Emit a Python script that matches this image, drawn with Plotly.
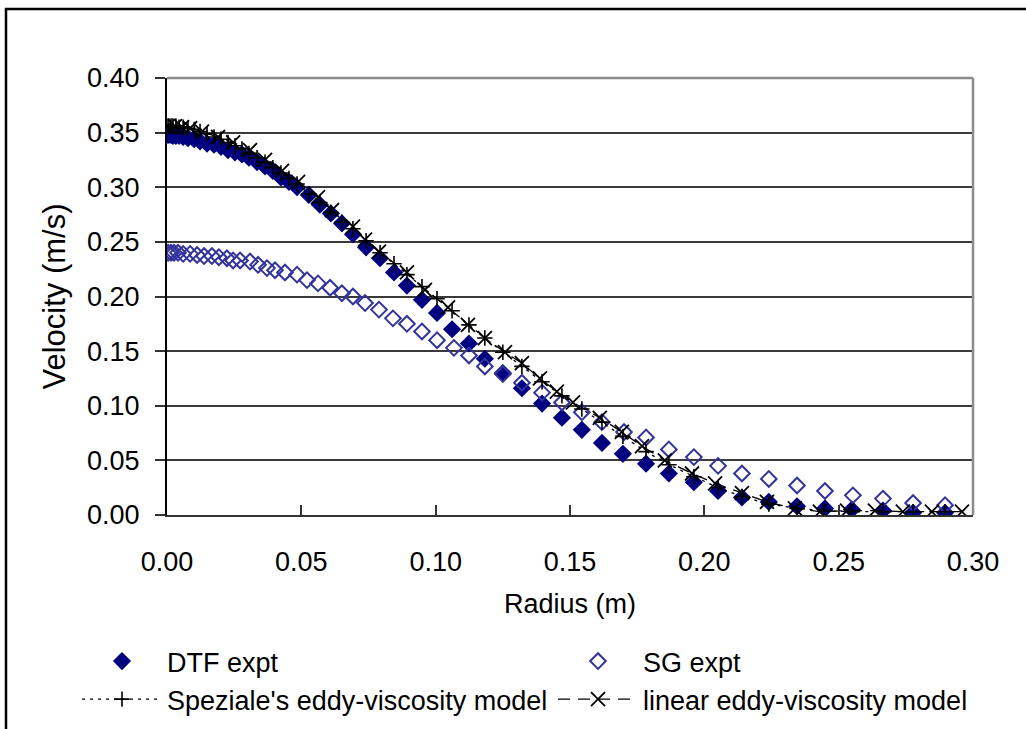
import plotly.graph_objects as go

# DTF experimental profile (radius m, axial velocity m/s)
r_dtf = [0.0000, 0.0007, 0.0015, 0.0022, 0.0033, 0.0045, 0.0060, 0.0078, 0.0101, 0.0123,
         0.0149, 0.0175, 0.0201, 0.0227, 0.0253, 0.0279, 0.0305, 0.0335, 0.0365, 0.0394,
         0.0424, 0.0454, 0.0484, 0.0528, 0.0569, 0.0610, 0.0651, 0.0692, 0.0741, 0.0793,
         0.0845, 0.0893, 0.0949, 0.1005, 0.1061, 0.1124, 0.1183, 0.1250, 0.1321, 0.1396,
         0.1470, 0.1544, 0.1619, 0.1697, 0.1783, 0.1868, 0.1961, 0.2051, 0.2140, 0.2240,
         0.2345, 0.2449, 0.2549, 0.2665, 0.2777, 0.2896]
v_dtf = [0.348, 0.348, 0.348, 0.347, 0.347, 0.347, 0.346, 0.345, 0.344, 0.342,
         0.340, 0.339, 0.337, 0.334, 0.332, 0.330, 0.327, 0.323, 0.319, 0.315,
         0.309, 0.305, 0.300, 0.293, 0.284, 0.276, 0.267, 0.257, 0.245, 0.235,
         0.222, 0.210, 0.197, 0.185, 0.170, 0.157, 0.143, 0.130, 0.116, 0.102,
         0.089, 0.078, 0.066, 0.056, 0.047, 0.038, 0.030, 0.022, 0.016, 0.012,
         0.008, 0.006, 0.005, 0.004, 0.002, 0.002]

# SG experimental profile
r_sg = [0.0004, 0.0015, 0.0026, 0.0041, 0.0060, 0.0086, 0.0112, 0.0138, 0.0167, 0.0193,
        0.0223, 0.0246, 0.0272, 0.0309, 0.0339, 0.0372, 0.0402, 0.0439, 0.0484, 0.0521,
        0.0562, 0.0607, 0.0651, 0.0692, 0.0737, 0.0789, 0.0841, 0.0893, 0.0949, 0.1005,
        0.1068, 0.1124, 0.1183, 0.1250, 0.1321, 0.1396, 0.1470, 0.1544, 0.1619, 0.1701,
        0.1783, 0.1868, 0.1961, 0.2051, 0.2140, 0.2240, 0.2345, 0.2449, 0.2553, 0.2665,
        0.2777, 0.2896]
v_sg = [0.240, 0.240, 0.240, 0.240, 0.239, 0.239, 0.238, 0.237, 0.237, 0.236,
        0.235, 0.233, 0.233, 0.232, 0.229, 0.226, 0.224, 0.222, 0.220, 0.215,
        0.212, 0.208, 0.203, 0.200, 0.194, 0.188, 0.180, 0.175, 0.168, 0.160,
        0.153, 0.146, 0.136, 0.129, 0.121, 0.112, 0.103, 0.094, 0.085, 0.076,
        0.071, 0.060, 0.053, 0.045, 0.038, 0.033, 0.027, 0.022, 0.018, 0.015,
        0.011, 0.009]

# Speziale's eddy-viscosity model, evaluated at the DTF radii
r_spz = r_dtf
v_spz = [0.356, 0.356, 0.356, 0.356, 0.356, 0.355, 0.355, 0.354, 0.353, 0.351,
         0.349, 0.346, 0.344, 0.341, 0.338, 0.335, 0.331, 0.327, 0.323, 0.318,
         0.313, 0.308, 0.303, 0.294, 0.286, 0.277, 0.268, 0.262, 0.251, 0.240,
         0.230, 0.220, 0.209, 0.198, 0.187, 0.174, 0.162, 0.149, 0.136, 0.122,
         0.109, 0.097, 0.085, 0.072, 0.058, 0.046, 0.035, 0.025, 0.017, 0.010,
         0.006, 0.004, 0.003, 0.003, 0.003, 0.003]

# linear eddy-viscosity model
r_lin = [0.0004, 0.0030, 0.0056, 0.0086, 0.0130, 0.0190, 0.0246, 0.0309, 0.0365, 0.0428,
         0.0488, 0.0562, 0.0614, 0.0692, 0.0737, 0.0789, 0.0893, 0.0960, 0.1046, 0.1120,
         0.1183, 0.1258, 0.1321, 0.1388, 0.1451, 0.1511, 0.1611, 0.1693, 0.1768, 0.1853,
         0.1954, 0.2040, 0.2140, 0.2233, 0.2337, 0.2430, 0.2531, 0.2635, 0.2739, 0.2847,
         0.2959]
v_lin = [0.356, 0.356, 0.355, 0.354, 0.351, 0.346, 0.341, 0.334, 0.325, 0.315,
         0.305, 0.291, 0.279, 0.264, 0.252, 0.241, 0.222, 0.206, 0.190, 0.174,
         0.162, 0.149, 0.139, 0.125, 0.113, 0.103, 0.089, 0.076, 0.063, 0.050,
         0.038, 0.029, 0.020, 0.012, 0.006, 0.003, 0.004, 0.004, 0.003, 0.003,
         0.003]

x_ticks = [0.00, 0.05, 0.10, 0.15, 0.20, 0.25, 0.30]
y_ticks = [0.00, 0.05, 0.10, 0.15, 0.20, 0.25, 0.30, 0.35, 0.40]

FONT = "Liberation Sans, Arial, sans-serif"
FS = 27

# plot area in pixels: x 167..973, y 78..515
L, R, T, B = 167, 53, 78, 214
PW, PH = 1026 - L - R, 729 - T - B


def px(xp):
    return (xp - L) / PW


def py(yp):
    return (729 - B - yp) / PH


fig = go.Figure()
fig.add_trace(go.Scatter(
    x=r_dtf, y=v_dtf, mode="markers", name="DTF expt",
    marker=dict(symbol="diamond", size=14, color="#000080", line=dict(width=0)),
    legend="legend", legendgroup="g1"))
fig.add_trace(go.Scatter(
    x=r_sg, y=v_sg, mode="markers", name="SG expt",
    marker=dict(symbol="diamond-open", size=12, color="#33339a", line=dict(width=2)),
    legend="legend2", legendgroup="g3"))
fig.add_trace(go.Scatter(
    x=r_spz, y=v_spz, mode="lines+markers", name="Speziale's eddy-viscosity model",
    line=dict(color="black", width=1.3, dash="3px,5px"),
    marker=dict(symbol="cross-thin", size=11, color="black", line=dict(width=1.6, color="black")),
    legend="legend", legendgroup="g2"))
fig.add_trace(go.Scatter(
    x=r_lin, y=v_lin, mode="lines+markers", name="linear eddy-viscosity model",
    line=dict(color="black", width=1.3, dash="12px,8px"),
    marker=dict(symbol="x-thin", size=14, color="black", line=dict(width=1.8, color="black")),
    legend="legend2", legendgroup="g4"))

legend_common = dict(
    font=dict(family=FONT, size=FS, color="black"),
    bgcolor="rgba(0,0,0,0)", borderwidth=0,
    orientation="v", tracegroupgap=0, itemwidth=80,
    xanchor="left", yanchor="top",
)
fig.update_layout(
    width=1026, height=729,
    margin=dict(l=L, r=R, t=T, b=B, pad=0, autoexpand=False),
    paper_bgcolor="white", plot_bgcolor="white",
    font=dict(family=FONT, size=FS, color="black"),
    showlegend=True,
    legend=dict(x=px(77), y=py(637), **legend_common),
    legend2=dict(x=px(553), y=py(637), **legend_common),
    xaxis=dict(
        range=[0, 0.30], tickvals=x_ticks, ticktext=[f"{t:.2f}" for t in x_ticks],
        ticks="inside", ticklen=10, tickcolor="#333333", tickwidth=1.5,
        showline=True, linecolor="#333333", linewidth=2,
        showgrid=False, zeroline=False, ticklabelstandoff=22,
        title=dict(text="Radius (m)", standoff=18, font=dict(family=FONT, size=FS)),
    ),
    yaxis=dict(
        range=[0, 0.40], tickvals=y_ticks, ticktext=[f"{t:.2f}" for t in y_ticks],
        ticks="outside", ticklen=10, tickcolor="#333333", tickwidth=1.5,
        showline=True, linecolor="black", linewidth=2,
        showgrid=True, gridcolor="#3a3a3a", gridwidth=1.5, zeroline=False,
        ticklabelstandoff=10,
        title=dict(text="Velocity (m/s)", standoff=12, font=dict(family=FONT, size=31)),
    ),
    shapes=[
        # plot-area border on the top and right sides
        dict(type="line", xref="paper", yref="paper", x0=0, x1=1, y0=1, y1=1,
             line=dict(color="#8c8c8c", width=2.5), layer="above"),
        dict(type="line", xref="paper", yref="paper", x0=1, x1=1, y0=0, y1=1,
             line=dict(color="#8c8c8c", width=2.5), layer="above"),
        # outer chart frame
        dict(type="rect", xref="paper", yref="paper",
             x0=px(6), x1=px(1060), y0=py(760), y1=py(9),
             line=dict(color="black", width=2.5), fillcolor="rgba(0,0,0,0)", layer="above"),
    ],
)

fig.write_html("out.html")
